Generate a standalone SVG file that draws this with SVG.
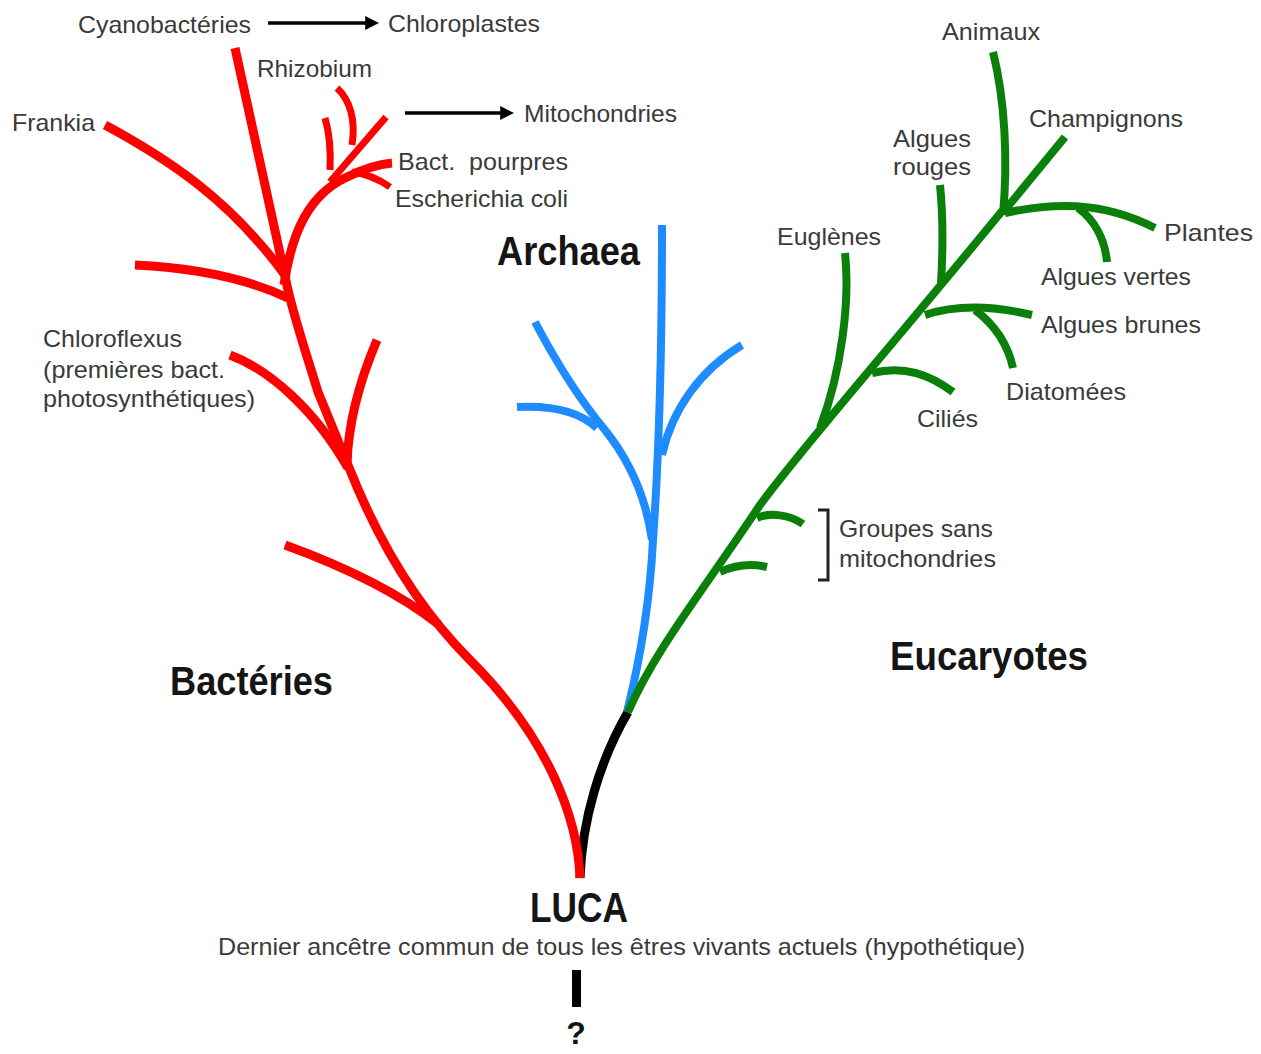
<svg xmlns="http://www.w3.org/2000/svg" width="1261" height="1054" viewBox="0 0 1261 1054">
<style>
.lbl{font-family:"Liberation Sans",Arial,sans-serif;font-size:24px;fill:#3a3a3a;white-space:pre}
.big{font-family:"Liberation Sans",Arial,sans-serif;font-size:40px;font-weight:bold;fill:#151515}
.br{fill:none;stroke-linecap:butt;stroke-linejoin:round}
.red{stroke:#ff0000;stroke-width:9}
.blue{stroke:#1e8cff;stroke-width:8}
.green{stroke:#0a800a;stroke-width:8}
.blk{stroke:#000;stroke-width:9}
.arr{stroke:#000;stroke-width:3.5;fill:none}
</style>
<defs>
<marker id="ah" viewBox="0 0 10 10" refX="2" refY="5" markerWidth="4" markerHeight="4" orient="auto" markerUnits="strokeWidth">
<path d="M0,0 L10,5 L0,10 z" fill="#000"/>
</marker>
</defs>
<rect width="1261" height="1054" fill="#fff"/>
<g id="connectors">
<!-- black stem -->
<path class="br blk" d="M580 878 C582 820 600 760 628 712"/>
<!-- bacteria -->
<path class="br red" d="M580 878 C578 820 550 740 470 660 C420 610 380 545 350 470 L318 392 C305 350 295 320 288 290 L235 48"/>
<path class="br red" d="M105 125 C170 160 230 200 285 275"/>
<path class="br red" d="M135 265 C200 268 250 280 288 298"/>
<path class="br red" d="M230 355 C270 370 315 410 348 468"/>
<path class="br red" d="M377 340 C360 380 348 420 347 465"/>
<path class="br red" d="M285 545 C340 565 395 590 438 624"/>
<path class="br red" d="M284 285 C292 230 310 195 345 178 C365 168 380 164 392 163"/>
<path class="br red" style="stroke-width:7" d="M352 172 C368 174 380 180 390 187"/>
<path class="br red" style="stroke-width:7" d="M330 182 L386 117"/>
<path class="br red" style="stroke-width:7" d="M352 145 C356 120 350 100 337 88"/>
<path class="br red" style="stroke-width:7" d="M325 118 C330 135 331 150 330 170"/>
<!-- archaea -->
<path class="br blue" d="M627 712 C640 660 650 600 653 540 C658 470 662 380 662 225"/>
<path class="br blue" d="M652 540 C645 490 625 455 605 430 C580 400 555 360 535 322"/>
<path class="br blue" d="M597 428 C580 412 555 405 517 407"/>
<path class="br blue" d="M662 455 C672 410 700 370 742 345"/>
<!-- eukaryotes -->
<path class="br green" d="M628 712 C655 650 700 595 760 505 C800 450 880 360 1007 205"/>
<path class="br green" d="M1003 215 C1008 160 1005 100 993 52"/>
<path class="br green" d="M1005 210 L1065 137"/>
<path class="br green" d="M1005 213 C1050 203 1100 200 1155 228"/>
<path class="br green" d="M1078 208 C1095 220 1105 240 1107 262"/>
<path class="br green" d="M940 185 C943 215 943 250 941 283"/>
<path class="br green" d="M925 315 C955 305 990 305 1032 315"/>
<path class="br green" d="M975 310 C995 325 1008 345 1013 368"/>
<path class="br green" d="M872 373 C905 365 930 375 953 392"/>
<path class="br green" d="M845 253 C850 300 842 370 820 428"/>
<path class="br green" d="M757 518 C770 512 790 515 803 524"/>
<path class="br green" d="M720 572 C735 565 750 563 767 567"/>
<!-- arrows -->
<path class="arr" d="M268 23 L368 23" marker-end="url(#ah)"/>
<path class="arr" d="M405 113 L503 113" marker-end="url(#ah)"/>
<!-- bracket -->
<path d="M818 510 L828 510 L828 580 L818 580" fill="none" stroke="#222" stroke-width="3"/>
<!-- LUCA bar -->
<rect x="572" y="970" width="9" height="37" fill="#000"/>
</g>
<g id="n-cyano"><text class="lbl" x="78" y="33" textLength="173" lengthAdjust="spacingAndGlyphs">Cyanobactéries</text></g>
<g id="n-chloroplastes"><text class="lbl" x="388" y="32" textLength="152" lengthAdjust="spacingAndGlyphs">Chloroplastes</text></g>
<g id="n-rhizobium"><text class="lbl" x="257" y="77" textLength="115" lengthAdjust="spacingAndGlyphs">Rhizobium</text></g>
<g id="n-frankia"><text class="lbl" x="12" y="131" textLength="83" lengthAdjust="spacingAndGlyphs">Frankia</text></g>
<g id="n-mito"><text class="lbl" x="524" y="122" textLength="153" lengthAdjust="spacingAndGlyphs">Mitochondries</text></g>
<g id="n-pourpres"><text class="lbl" x="398" y="170" textLength="170" lengthAdjust="spacingAndGlyphs">Bact.  pourpres</text></g>
<g id="n-ecoli"><text class="lbl" x="395" y="207" textLength="173" lengthAdjust="spacingAndGlyphs">Escherichia coli</text></g>
<g id="n-chloroflexus">
<text class="lbl" x="43" y="347" textLength="139" lengthAdjust="spacingAndGlyphs">Chloroflexus</text>
<text class="lbl" x="43" y="378" textLength="182" lengthAdjust="spacingAndGlyphs">(premières bact.</text>
<text class="lbl" x="43" y="407" textLength="212" lengthAdjust="spacingAndGlyphs">photosynthétiques)</text>
</g>
<g id="n-archaea"><text class="big" x="497" y="265" textLength="143" lengthAdjust="spacingAndGlyphs">Archaea</text></g>
<g id="n-bacteries"><text class="big" x="170" y="695" textLength="163" lengthAdjust="spacingAndGlyphs">Bactéries</text></g>
<g id="n-eucaryotes"><text class="big" x="890" y="670" textLength="198" lengthAdjust="spacingAndGlyphs">Eucaryotes</text></g>
<g id="n-animaux"><text class="lbl" x="942" y="40" textLength="98" lengthAdjust="spacingAndGlyphs">Animaux</text></g>
<g id="n-champignons"><text class="lbl" x="1029" y="127" textLength="154" lengthAdjust="spacingAndGlyphs">Champignons</text></g>
<g id="n-rouges">
<text class="lbl" x="893" y="147" textLength="78" lengthAdjust="spacingAndGlyphs">Algues</text>
<text class="lbl" x="893" y="175" textLength="78" lengthAdjust="spacingAndGlyphs">rouges</text>
</g>
<g id="n-euglenes"><text class="lbl" x="777" y="245" textLength="104" lengthAdjust="spacingAndGlyphs">Euglènes</text></g>
<g id="n-plantes"><text class="lbl" x="1164" y="241" textLength="89" lengthAdjust="spacingAndGlyphs">Plantes</text></g>
<g id="n-vertes"><text class="lbl" x="1041" y="285" textLength="150" lengthAdjust="spacingAndGlyphs">Algues vertes</text></g>
<g id="n-brunes"><text class="lbl" x="1041" y="333" textLength="160" lengthAdjust="spacingAndGlyphs">Algues brunes</text></g>
<g id="n-diatomees"><text class="lbl" x="1006" y="400" textLength="120" lengthAdjust="spacingAndGlyphs">Diatomées</text></g>
<g id="n-cilies"><text class="lbl" x="917" y="427" textLength="61" lengthAdjust="spacingAndGlyphs">Ciliés</text></g>
<g id="n-groupes">
<text class="lbl" x="839" y="537" textLength="154" lengthAdjust="spacingAndGlyphs">Groupes sans</text>
<text class="lbl" x="839" y="567" textLength="157" lengthAdjust="spacingAndGlyphs">mitochondries</text>
</g>
<g id="n-luca">
<text class="big" x="530" y="922" textLength="98" lengthAdjust="spacingAndGlyphs" style="font-size:42px">LUCA</text>
<text class="lbl" x="218" y="955" textLength="807" lengthAdjust="spacingAndGlyphs">Dernier ancêtre commun de tous les êtres vivants actuels (hypothétique)</text>
</g>
<g id="n-q"><text class="big" x="576" y="1044" text-anchor="middle" style="font-size:32px">?</text></g>
</svg>
